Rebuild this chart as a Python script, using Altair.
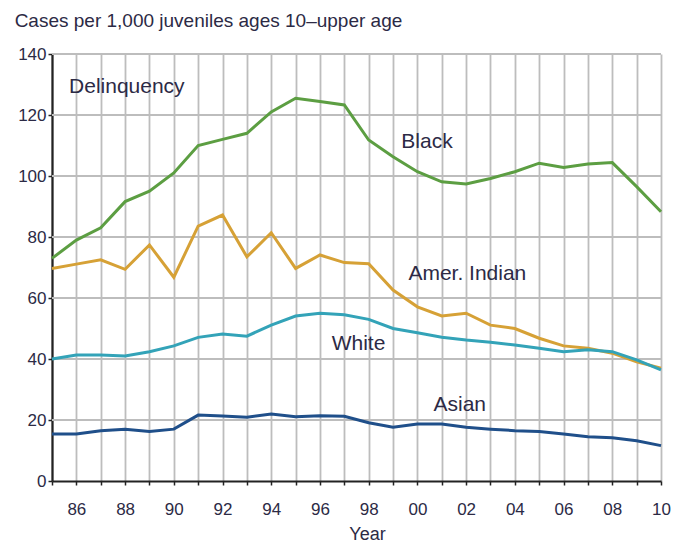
import altair as alt
import pandas as pd

years = list(range(1985, 2011))

black = [73, 79, 83, 91.6, 95, 101, 110, 112, 114, 121, 125.5, 124.4, 123.3,
         111.8, 106.3, 101.4, 98.1, 97.4, 99.2, 101.4, 104.2, 102.8, 103.9, 104.4, 96.5, 88.3]
amer_indian = [69.7, 71.1, 72.5, 69.4, 77.4, 66.8, 83.6, 87.2, 73.5, 81.4, 69.7, 74.1, 71.6,
               71.2, 62.6, 57.1, 54.1, 55, 51.1, 50, 46.8, 44.3, 43.5, 41.9, 39.1, 37]
white = [40, 41.3, 41.3, 41, 42.4, 44.3, 47.1, 48.2, 47.5, 51.1, 54.1, 55, 54.5,
         53, 50, 48.6, 47.1, 46.2, 45.5, 44.6, 43.5, 42.4, 43, 42.4, 39.7, 36.4]
asian = [15.4, 15.4, 16.5, 17, 16.2, 17, 21.6, 21.3, 20.9, 22, 21.1, 21.4, 21.2,
         19.1, 17.6, 18.7, 18.7, 17.6, 17, 16.5, 16.2, 15.4, 14.5, 14.2, 13.2, 11.6]

series_names = ["Black", "Amer. Indian", "White", "Asian"]
series_colors = ["#5c9e42", "#d6a136", "#33a3b8", "#1f4f8a"]

label_text = ["Delinquency", "Black", "Amer. Indian", "White", "Asian"]
label_year = [1985.7, 1999.34, 1999.63, 1996.48, 2000.66]
label_value = [127.2, 109.2, 65.9, 43.0, 23.0]

grid_y = [20, 40, 60, 80, 100, 120, 140]
y_ticks = list(range(0, 141, 5))

title_text = "Cases per 1,000 juveniles ages 10\u2013upper age"

rows = []
for name, vals in zip(series_names, [black, amer_indian, white, asian]):
    for yr, v in zip(years, vals):
        rows.append({"year": yr, "value": v, "series": name})
df = pd.DataFrame(rows)
labels_df = pd.DataFrame({"text": label_text, "year": label_year, "value": label_value})
grid_df = pd.DataFrame({"value": grid_y})

FONT = "Liberation Sans"
TXT = "#2c2a45"
GRID = "#bdbdbd"

xscale = alt.Scale(domain=[1985, 2010], nice=False, zero=False)
yscale = alt.Scale(domain=[0, 140], nice=False)

xaxis = alt.Axis(values=years, title="Year", grid=True, gridColor=GRID,
                 gridWidth=1.8, gridOpacity=1, format="d", labelOverlap=False,
                 labelFlush=False,
                 labelExpr="datum.value % 2 == 0 ? substring(datum.label, 2, 4) : ''",
                 labelFont=FONT, labelFontSize=17, labelColor=TXT, labelPadding=16,
                 tickSize=4, tickWidth=1.5, tickColor="#222222",
                 domainColor="#222222", domainWidth=2.2,
                 titleFont=FONT, titleFontSize=18, titleFontWeight="normal",
                 titleColor=TXT, titleX=315, titleY=44, titleBaseline="top")

grid = alt.Chart(grid_df).mark_rule(color=GRID, strokeWidth=1.8).encode(
    y=alt.Y("value:Q", scale=yscale)
)

lines = alt.Chart(df).mark_line(strokeWidth=3).encode(
    x=alt.X("year:Q", scale=xscale, axis=xaxis),
    y=alt.Y("value:Q", scale=yscale,
            axis=alt.Axis(values=y_ticks, title=None, grid=False, labelOverlap=False,
                          labelExpr="datum.value % 20 == 0 ? datum.label : ''",
                          labelFont=FONT, labelFontSize=17, labelColor=TXT, labelPadding=2,
                          tickSize=4, tickWidth=1.5, tickColor="#222222",
                          domainColor="#222222", domainWidth=2.2)),
    color=alt.Color("series:N", scale=alt.Scale(domain=series_names, range=series_colors),
                    legend=None),
    detail="series:N",
)

labels = alt.Chart(labels_df).mark_text(
    align="left", baseline="alphabetic", font=FONT, fontSize=21, color=TXT
).encode(
    x=alt.X("year:Q", scale=xscale, axis=xaxis),
    y=alt.Y("value:Q", scale=yscale),
    text="text:N",
)

chart = alt.layer(grid, lines, labels).properties(
    width=609,
    height=427,
    title=alt.TitleParams(title_text, anchor="start", dx=-3, offset=14, font=FONT,
                          fontSize=19, fontWeight="normal", color=TXT),
    padding={"left": 44, "top": 46, "right": 10, "bottom": 61},
    autosize=alt.AutoSizeParams(type="none"),
).configure_view(stroke=None)

chart.save("out.html", embed_options={"renderer": "svg", "actions": False})
